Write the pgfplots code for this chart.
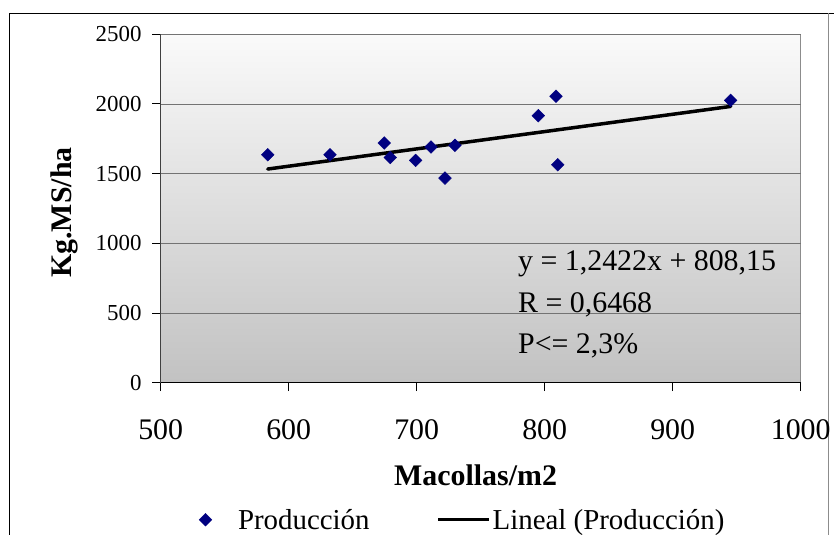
\documentclass[border=0pt]{standalone}
\usepackage{fontspec}
\setmainfont{Liberation Serif}
\usepackage{pgfplots}
\pgfplotsset{compat=1.18}
\definecolor{navy}{HTML}{000080}
\pgfplotsset{
  diamleg/.style={legend image code/.code={\path[draw=none] (0bp,0bp) -- (40bp,0bp); \draw[##1] plot coordinates {(9.5bp,0bp)};}},
  lineleg/.style={legend image code/.code={\draw[##1, line width=3bp, line cap=butt] (0bp,0bp) -- (51bp,0bp);}},
}
\begin{document}
\begin{tikzpicture}[x=1bp,y=1bp]
\useasboundingbox (0,0) rectangle (834,535);
\begin{scope}
\clip (0,0) rectangle (834,535);
\draw[black, line width=1bp] (840,521.7) -- (9.3,521.7) -- (9.3,-10);
\draw[black!45, line width=1bp] (828.3,521.7) -- (828.3,-10);
\end{scope}
\begin{axis}[
  at={(160.7bp,152.3bp)}, anchor=south west, scale only axis,
  width=640bp, height=348.4bp,
  xmin=500, xmax=1000, ymin=0, ymax=2500,
  xtick={500,600,...,1000}, ytick={0,500,...,2500},
  axis x line*=bottom, axis y line*=left,
  x axis line style={black, line width=1.2bp},
  y axis line style={black!75, line width=1.2bp},
  axis background/.style={draw=black!45, line width=1bp, top color=white!98!black, bottom color=black!24},
  ymajorgrids, grid style={black!55, line width=0.9bp},
  tick align=outside, major tick length=8.5bp, tick style={black, line width=1bp},
  /pgf/number format/assume math mode=true,
  /pgf/number format/1000 sep={},
  xticklabel style={font=\fontsize{30}{36}\selectfont, inner sep=0pt, yshift=-27.8bp},
  yticklabel style={font=\fontsize{23}{28}\selectfont, inner sep=0pt, xshift=-10.5bp},
  xlabel={Macollas/m2},
  xlabel style={at={(axis description cs:0.492,-0.2965)}, anchor=base, inner sep=0pt, font=\bfseries\fontsize{30}{36}\selectfont},
  ylabel={Kg.MS/ha},
  ylabel style={at={(axis description cs:-0.1511,0.4885)}, anchor=center, inner sep=0pt, font=\bfseries\fontsize{30}{36}\selectfont},
  legend columns=2,
  legend style={at={(axis description cs:0.0552,-0.3935)}, anchor=west, draw=none, fill=none,
    inner sep=0pt, outer sep=0pt, font=\fontsize{29}{34}\selectfont,
    cells={anchor=west}, nodes={inner xsep=2bp, inner ysep=0pt},
    /tikz/every even column/.append style={column sep=65bp}},
]
\addplot[only marks, mark=square*, mark size=4.5bp, mark options={rotate=45, fill=navy, draw=navy}, color=navy, diamleg]
coordinates {
(583.6,1636) (632.3,1636) (674.7,1720) (679.4,1616) (699.2,1595) (711.2,1691)
(722.1,1468) (729.9,1703) (795.0,1916) (808.8,2055) (810.2,1564) (945.3,2026)
};
\addlegendentry{Producción}
\addplot[black, line width=3.5bp, line cap=round, lineleg]
coordinates {(583.6,1533.1) (945.3,1982.4)};
\addlegendentry{Lineal (Producción)}
\node[anchor=base west, inner sep=0pt, font=\fontsize{30}{36}\selectfont] at (axis cs:779.1,801.5) {y = 1,2422x + 808,15};
\node[anchor=base west, inner sep=0pt, font=\fontsize{30}{36}\selectfont] at (axis cs:779.1,505) {R = 0,6468};
\node[anchor=base west, inner sep=0pt, font=\fontsize{30}{36}\selectfont] at (axis cs:779.1,211) {P<= 2,3\%};
\end{axis}
\end{tikzpicture}
\end{document}
